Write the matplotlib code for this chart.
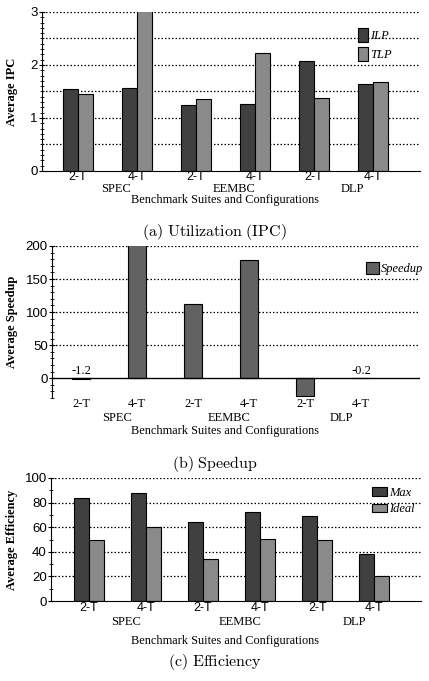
import numpy as np
import matplotlib.pyplot as plt
from matplotlib.ticker import MultipleLocator
from matplotlib.transforms import blended_transform_factory

plt.rcParams['mathtext.fontset'] = 'cm'

# Data
configs = ['2-T', '4-T', '2-T', '4-T', '2-T', '4-T']
suites = ['SPEC', 'EEMBC', 'DLP']

ipc_ilp = [1.54, 1.56, 1.25, 1.26, 2.08, 1.64]
ipc_tlp = [1.45, 3.04, 1.36, 2.23, 1.38, 1.67]

speedup = [-1.2, 205, 112, 179, -27, -0.2]
speedup_notes = {0: '-1.2', 5: '-0.2'}

eff_max = [84, 88, 64, 72.4, 69.4, 38.2]
eff_ideal = [50, 60.5, 34, 50.7, 50, 20]

SERIF = 'Liberation Serif'
SANS = 'Liberation Sans'
DARK = '#404040'
LIGHT = '#8a8a8a'
MID = '#626262'
FS = 9

fig = plt.figure(figsize=(4.29, 6.81), dpi=100)
W, H = 429.0, 681.0


def fy(ypix):
    return 1 - ypix / H


def make_axes(left, right, top, bottom):
    return fig.add_axes([left / W, fy(bottom), (right - left) / W, (bottom - top) / H])


def style_axes(ax, ylabel, grid_step, minor_step):
    for s in ['top', 'right']:
        ax.spines[s].set_visible(False)
    ax.yaxis.set_minor_locator(MultipleLocator(minor_step))
    ax.tick_params(axis='y', which='major', length=4, direction='inout', labelsize=9.5, pad=1)
    ax.tick_params(axis='y', which='minor', length=2.5, direction='inout')
    for lab in ax.get_yticklabels():
        lab.set_fontfamily(SANS)
    ax.set_ylabel(ylabel, fontfamily=SERIF, fontweight='bold', fontsize=9)
    ax.yaxis.set_label_coords(18 / W, 0.5, transform=blended_transform_factory(fig.transFigure, ax.transAxes))
    lo, hi = ax.get_ylim()
    for g in np.arange(grid_step, hi + 1e-9, grid_step):
        ax.axhline(g, color='black', lw=0.9, ls=(0, (1.2, 1.6)), zorder=0)


def x_labels(ax, cfg_y, suite_y, xl_y, cfg_font):
    ax.set_xticks([])
    tr = blended_transform_factory(ax.transData, fig.transFigure)
    for xi, c in enumerate(configs):
        ax.text(xi, fy(cfg_y), c, transform=tr, ha='center', va='center',
                fontfamily=cfg_font, fontsize=FS)
    for i, s in enumerate(suites):
        ax.text(2 * i + 0.65, fy(suite_y), s, transform=tr, ha='center', va='center',
                fontfamily=SERIF, fontsize=FS)
    fig.text(225 / W, fy(xl_y), 'Benchmark Suites and Configurations', ha='center', va='center',
             fontfamily=SERIF, fontsize=8.8)


def add_legend(ax, xpix, ypix, **kw):
    ax.legend(loc='upper left', bbox_to_anchor=(xpix / W, fy(ypix)), bbox_transform=fig.transFigure,
              frameon=False, prop={'family': SERIF, 'style': 'italic', 'size': FS},
              handletextpad=0.2, borderpad=0, borderaxespad=0, **kw)


x = np.arange(len(configs))

# (a) Utilization
ax1 = make_axes(42, 420, 12, 171)
bw = 0.254
ax1.bar(x - bw / 2, ipc_ilp, bw, color=DARK, edgecolor='black', lw=0.8, label='ILP', zorder=2)
ax1.bar(x + bw / 2, ipc_tlp, bw, color=LIGHT, edgecolor='black', lw=0.8, label='TLP', zorder=2)
ax1.set_xlim(-0.61, 5.8)
ax1.set_ylim(0, 3)
ax1.set_yticks([0, 1, 2, 3])
style_axes(ax1, 'Average IPC', 0.5, 0.1)
x_labels(ax1, 177, 189, 200, SANS)
add_legend(ax1, 358, 28, handlelength=0.8, handleheight=1.3, labelspacing=0.4)
fig.text(0.5, fy(232), r'$\mathrm{(a)\ Utilization\ (IPC)}$', ha='center', va='center',
         fontsize=11.5)

# (b) Speedup
ax2 = make_axes(52, 420, 246, 398)
ax2.bar(x, speedup, 0.33, color=MID, edgecolor='black', lw=0.8, label='Speedup', zorder=2)
ax2.set_xlim(-0.52, 6.05)
ax2.set_ylim(-30, 200)
ax2.set_yticks([0, 50, 100, 150, 200])
ax2.spines['bottom'].set_visible(False)
ax2.axhline(0, color='black', lw=1.0, zorder=3)
style_axes(ax2, 'Average Speedup', 50, 10)
for i, note in speedup_notes.items():
    ax2.text(x[i], 1.5, note, ha='center', va='bottom', fontfamily=SERIF, fontsize=FS)
x_labels(ax2, 404, 418, 431, SERIF)
add_legend(ax2, 366, 262, handlelength=1.0, handleheight=1.1)
fig.text(0.5, fy(464), r'$\mathrm{(b)\ Speedup}$', ha='center', va='center', fontsize=11.5)

# (c) Efficiency
ax3 = make_axes(51, 421, 478, 601)
bw3 = 0.262
ax3.bar(x - bw3 / 2, eff_max, bw3, color=DARK, edgecolor='black', lw=0.8, label='Max', zorder=2)
ax3.bar(x + bw3 / 2, eff_ideal, bw3, color=LIGHT, edgecolor='black', lw=0.8, label='Ideal', zorder=2)
ax3.set_xlim(-0.667, 5.82)
ax3.set_ylim(0, 100)
ax3.set_yticks([0, 20, 40, 60, 80, 100])
style_axes(ax3, 'Average Efficiency', 20, 10)
x_labels(ax3, 608, 622, 641, SANS)
add_legend(ax3, 372, 487, handlelength=1.2, handleheight=0.7, labelspacing=0.35)
fig.text(0.5, fy(662), r'$\mathrm{(c)\ Efficiency}$', ha='center', va='center', fontsize=11.5)

fig.savefig('out.png', dpi=100)
